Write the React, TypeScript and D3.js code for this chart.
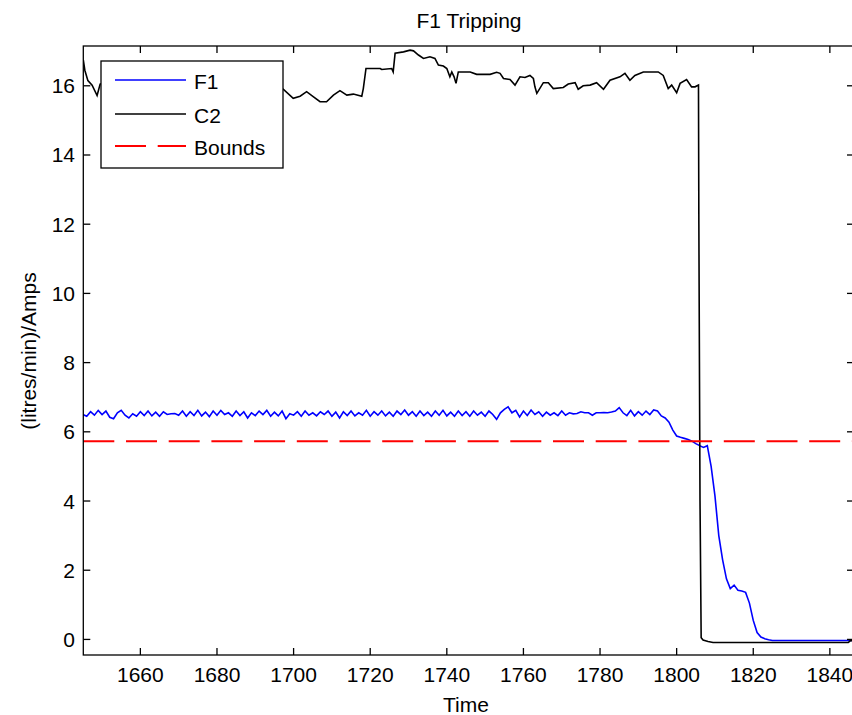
import React from "react";
import * as d3 from "d3";

const title = "F1 Tripping";
const xLabel = "Time";
const yLabel = "(litres/min)/Amps";
const xTicks = [1660, 1680, 1700, 1720, 1740, 1760, 1780, 1800, 1820, 1840];
const yTicks = [0, 2, 4, 6, 8, 10, 12, 14, 16];
const xDomain = [1645.1, 1846.3];
const yDomain = [-0.45, 17.15];
const boundValue = 5.73;
const legendNames = ["F1", "C2", "Bounds"];

// F1 sampled once per time unit, starting at 1645
const f1Start = 1645;
const f1Values = [
  6.50, 6.45, 6.58, 6.48, 6.62, 6.50, 6.60, 6.42, 6.38, 6.55,
  6.62, 6.48, 6.40, 6.52, 6.45, 6.58, 6.47, 6.60, 6.46, 6.57,
  6.45, 6.58, 6.50, 6.52, 6.53, 6.48, 6.60, 6.45, 6.58, 6.47,
  6.62, 6.46, 6.57, 6.44, 6.60, 6.48, 6.62, 6.50, 6.55, 6.45,
  6.60, 6.47, 6.58, 6.40, 6.55, 6.47, 6.60, 6.50, 6.62, 6.45,
  6.57, 6.46, 6.60, 6.38, 6.52, 6.48, 6.58, 6.45, 6.60, 6.48,
  6.55, 6.46, 6.58, 6.50, 6.60, 6.45, 6.57, 6.40, 6.58, 6.47,
  6.60, 6.46, 6.55, 6.48, 6.62, 6.45, 6.58, 6.48, 6.60, 6.46,
  6.57, 6.45, 6.60, 6.50, 6.63, 6.48, 6.58, 6.45, 6.60, 6.47,
  6.57, 6.45, 6.60, 6.48, 6.62, 6.46, 6.57, 6.45, 6.60, 6.47,
  6.58, 6.45, 6.60, 6.48, 6.57, 6.45, 6.60, 6.50, 6.36, 6.55,
  6.65, 6.72, 6.55, 6.62, 6.43, 6.60, 6.47, 6.63, 6.50, 6.58,
  6.45, 6.57, 6.48, 6.55, 6.47, 6.60, 6.48, 6.55, 6.52, 6.53,
  6.58, 6.55, 6.55, 6.48, 6.55, 6.55, 6.56, 6.55, 6.57, 6.60,
  6.70, 6.55, 6.47, 6.62, 6.46, 6.58, 6.48, 6.60, 6.50, 6.63,
  6.60, 6.46, 6.40, 6.28, 6.05, 5.88, 5.84, 5.81, 5.78, 5.73,
  5.66, 5.60, 5.55, 5.60, 5.00, 4.15, 3.00, 2.30, 1.75, 1.47,
  1.57, 1.42, 1.40, 1.36, 1.05, 0.55, 0.20, 0.07, 0.02, -0.01,
  -0.03, -0.03, -0.03, -0.03, -0.03, -0.03, -0.03, -0.03, -0.03, -0.03,
  -0.03, -0.03, -0.03, -0.03, -0.03, -0.03, -0.03, -0.03, -0.03, -0.03,
  -0.03, -0.03,
];

// C2 read at irregular times
const c2Time = [
  1645.1, 1645.5, 1646.3, 1647.4, 1648.7, 1649.5, 1651, 1655, 1660, 1665,
  1670, 1675, 1680, 1685, 1690, 1694, 1697.3, 1699.9, 1701.7, 1703.4,
  1705.2, 1706.9, 1708.6, 1710.4, 1712.1, 1713.9, 1715.6, 1717.8, 1718.2, 1718.9,
  1722.6, 1723.0, 1725.6, 1726.0, 1726.5, 1728.7, 1730.4, 1731.3, 1732.6, 1733.9,
  1735.6, 1736.9, 1737.8, 1739.1, 1740.0, 1740.8, 1741.3, 1741.9, 1742.4, 1743.0,
  1746.1, 1747.8, 1751.3, 1753.0, 1753.9, 1754.8, 1756.5, 1757.8, 1759.1, 1760.4,
  1761.7, 1762.6, 1763.0, 1763.5, 1765.2, 1766.5, 1767.8, 1770.4, 1771.7, 1773.5,
  1774.3, 1775.6, 1777.4, 1779.1, 1780.9, 1782.6, 1785.2, 1786.5, 1787.8, 1789.1,
  1791.3, 1795.2, 1796.5, 1797.8, 1798.7, 1800.0, 1800.9, 1802.6, 1803.9, 1804.8,
  1805.7, 1805.8, 1806.1, 1806.4, 1806.9, 1808.2, 1809.5, 1844.8, 1845.3, 1846.3,
];
const c2Value = [
  16.75, 16.45, 16.15, 16.02, 15.72, 16.05, 16.10, 15.90, 16.20, 16.00,
  16.30, 16.10, 15.95, 16.20, 16.00, 16.05, 15.90, 15.64, 15.70, 15.83,
  15.68, 15.54, 15.54, 15.73, 15.86, 15.73, 15.76, 15.70, 15.92, 16.50,
  16.50, 16.47, 16.50, 16.40, 16.94, 16.98, 17.03, 17.01, 16.89, 16.79,
  16.84, 16.79, 16.60, 16.57, 16.50, 16.26, 16.40, 16.26, 16.07, 16.40,
  16.40, 16.33, 16.33, 16.39, 16.36, 16.21, 16.18, 16.02, 16.26, 16.24,
  16.30, 16.21, 15.97, 15.78, 16.09, 16.09, 15.92, 15.95, 16.05, 16.09,
  15.90, 16.00, 16.02, 16.09, 15.90, 16.16, 16.26, 16.36, 16.16, 16.30,
  16.40, 16.40, 16.30, 15.92, 16.02, 15.80, 16.07, 16.18, 15.97, 15.97,
  16.02, 12.00, 4.00, 0.05, -0.02, -0.06, -0.09, -0.09, -0.04, -0.04,
];

const W = 852;
const H = 715;
const plot = { left: 83.3, right: 854, top: 46, bottom: 655 };
const FONT = "'Liberation Sans', Arial, Helvetica, sans-serif";
const FS = 21;

export default function App() {
  const x = d3.scaleLinear().domain(xDomain).range([plot.left, plot.right]);
  const y = d3.scaleLinear().domain(yDomain).range([plot.bottom, plot.top]);

  const f1Pts: [number, number][] = f1Values.map((v, i) => [f1Start + i, v]);
  const c2Pts: [number, number][] = c2Time.map((t, i) => [t, c2Value[i]]);
  const line = d3
    .line<[number, number]>()
    .x((d) => x(d[0]))
    .y((d) => y(d[1]));

  const tickLen = 7;
  const legend = { x: 101, y: 61, w: 182, h: 107 };
  const legendRows = [80, 114, 146];
  const legendColors = ["#0000ff", "#000000", "#ff0000"];

  return (
    <svg
      width={W}
      height={H}
      style={{ position: "absolute", left: 0, top: 0, background: "#fff" }}
      fontFamily={FONT}
    >
      <rect x={0} y={0} width={W} height={H} fill="#fff" />
      <defs>
        <clipPath id="plotclip">
          <rect
            x={plot.left}
            y={plot.top}
            width={plot.right - plot.left}
            height={plot.bottom - plot.top}
          />
        </clipPath>
      </defs>

      <text x={469} y={28} textAnchor="middle" fontSize={FS} fill="#000">
        {title}
      </text>

      <g clipPath="url(#plotclip)">
        <path d={line(f1Pts) || ""} fill="none" stroke="#0000ff" strokeWidth={1.6} />
        <path d={line(c2Pts) || ""} fill="none" stroke="#000" strokeWidth={1.6} />
        <line
          x1={x(xDomain[0])}
          x2={x(xDomain[1])}
          y1={y(boundValue)}
          y2={y(boundValue)}
          stroke="#ff0000"
          strokeWidth={2}
          strokeDasharray="31 11.7"
        />
      </g>

      {/* axes box */}
      <rect
        x={plot.left}
        y={plot.top}
        width={plot.right - plot.left}
        height={plot.bottom - plot.top}
        fill="none"
        stroke="#000"
        strokeWidth={1.3}
      />
      {xTicks.map((t) => (
        <g key={"xt" + t}>
          <line x1={x(t)} x2={x(t)} y1={plot.bottom} y2={plot.bottom - tickLen} stroke="#000" strokeWidth={1.3} />
          <line x1={x(t)} x2={x(t)} y1={plot.top} y2={plot.top + tickLen} stroke="#000" strokeWidth={1.3} />
          <text x={x(t)} y={682} textAnchor="middle" fontSize={FS} fill="#000">
            {t}
          </text>
        </g>
      ))}
      {yTicks.map((t) => (
        <g key={"yt" + t}>
          <line x1={plot.left} x2={plot.left + tickLen} y1={y(t)} y2={y(t)} stroke="#000" strokeWidth={1.3} />
          <line x1={plot.right} x2={plot.right - tickLen} y1={y(t)} y2={y(t)} stroke="#000" strokeWidth={1.3} />
          <text x={75} y={y(t) + 7.5} textAnchor="end" fontSize={FS} fill="#000">
            {t}
          </text>
        </g>
      ))}

      <text x={466} y={712} textAnchor="middle" fontSize={FS} fill="#000">
        {xLabel}
      </text>
      <text
        transform={`translate(36, 351) rotate(-90)`}
        textAnchor="middle"
        fontSize={FS}
        fill="#000"
      >
        {yLabel}
      </text>

      {/* legend */}
      <rect
        x={legend.x}
        y={legend.y}
        width={legend.w}
        height={legend.h}
        fill="#fff"
        stroke="#000"
        strokeWidth={1.3}
      />
      {legendNames.map((name, i) => (
        <g key={name}>
          <line
            x1={115}
            x2={186}
            y1={legendRows[i]}
            y2={legendRows[i]}
            stroke={legendColors[i]}
            strokeWidth={i === 2 ? 2 : 1.6}
            strokeDasharray={i === 2 ? "31 11.7" : undefined}
          />
          <text x={194} y={legendRows[i] + 8.5} fontSize={FS} fill="#000">
            {name}
          </text>
        </g>
      ))}
    </svg>
  );
}
